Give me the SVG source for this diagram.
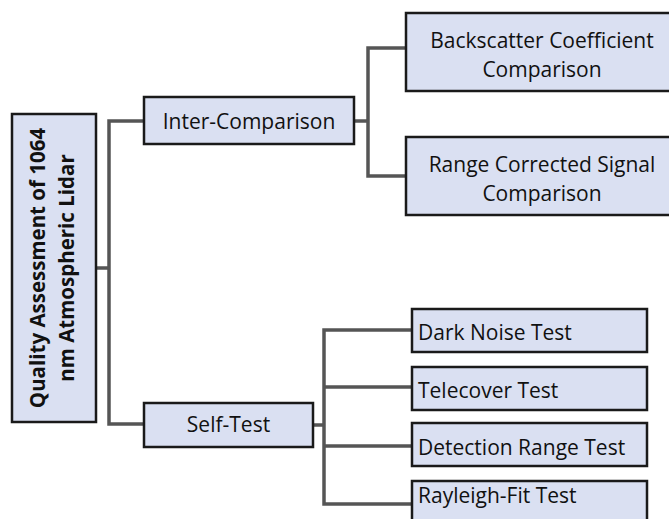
<svg xmlns="http://www.w3.org/2000/svg" width="669" height="519" viewBox="0 0 669 519">
<style>
.box{fill:#dae0f2;stroke:#1a1a1a;stroke-width:2.5}
.lbl{font-family:"Open Sans","Noto Sans",sans-serif;font-size:21px;fill:#111}
.c{text-anchor:middle}
.root{font-family:"Open Sans","Noto Sans",sans-serif;font-size:20.5px;font-weight:bold;fill:#111;text-anchor:middle}
.conn{fill:none;stroke:#555;stroke-width:3.5}
</style>
<rect width="669" height="519" fill="#fff"/>
<g id="connectors">
<path class="conn" d="M96 268H109M145 121H109V424H145"/>
<path class="conn" d="M354 121H368M407 48H368V176H407"/>
<path class="conn" d="M313 425H324M413 330H324V504H413M324 387H413M324 446H413"/>
</g>
<g id="root">
<rect class="box" x="12" y="114" width="84" height="308"/>
<g transform="translate(54,268) rotate(-90)">
<text class="root" x="0" y="-9">Quality Assessment of 1064</text>
<text class="root" x="0" y="20">nm Atmospheric Lidar</text>
</g>
</g>
<g id="inter">
<rect class="box" x="144" y="97" width="210" height="47"/>
<text class="lbl c" x="249" y="128.5">Inter-Comparison</text>
</g>
<g id="backscatter">
<rect class="box" x="406" y="13" width="272" height="78"/>
<text class="lbl c" x="542" y="48">Backscatter Coefficient</text>
<text class="lbl c" x="542" y="77">Comparison</text>
</g>
<g id="rangecorrected">
<rect class="box" x="406" y="137" width="272" height="78"/>
<text class="lbl c" x="542" y="172">Range Corrected Signal</text>
<text class="lbl c" x="542" y="201">Comparison</text>
</g>
<g id="selftest">
<rect class="box" x="144" y="403" width="169" height="44"/>
<text class="lbl c" x="228.5" y="432">Self-Test</text>
</g>
<g id="darknoise">
<rect class="box" x="412" y="309" width="235" height="43"/>
<text class="lbl" x="418" y="339.5">Dark Noise Test</text>
</g>
<g id="telecover">
<rect class="box" x="412" y="367" width="235" height="43"/>
<text class="lbl" x="418" y="397.5">Telecover Test</text>
</g>
<g id="detection">
<rect class="box" x="412" y="423" width="235" height="43"/>
<text class="lbl" x="418" y="455">Detection Range Test</text>
</g>
<g id="rayleigh">
<rect class="box" x="412" y="481" width="235" height="46"/>
<text class="lbl" x="418" y="503">Rayleigh-Fit Test</text>
</g>
</svg>
